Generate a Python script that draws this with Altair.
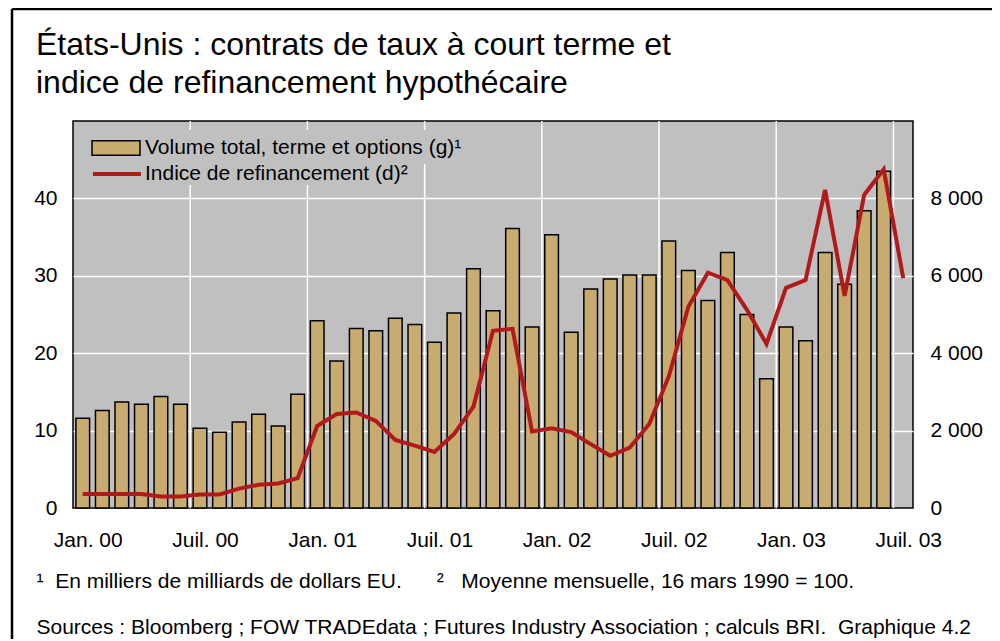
import altair as alt
import pandas as pd

FONT = "Liberation Sans"

# Monthly values, Jan 2000 - Jun 2003 (bars, left axis, thousands of billions USD)
volume = [11.6, 12.6, 13.7, 13.4, 14.4, 13.4, 10.3, 9.8, 11.1, 12.1, 10.6, 14.7,
          24.2, 19.0, 23.2, 22.9, 24.5, 23.7, 21.4, 25.2, 30.9, 25.5, 36.1, 23.4,
          35.3, 22.7, 28.3, 29.6, 30.1, 30.1, 34.5, 30.7, 26.8, 33.0, 25.0, 16.7,
          23.4, 21.6, 33.0, 28.9, 38.4, 43.5]
# Refinancing index, Jan 2000 - Jul 2003 (line, right axis)
refi = [360, 360, 360, 360, 300, 300, 350, 350, 500, 600, 635, 770,
        2120, 2430, 2470, 2250, 1760, 1610, 1450, 1910, 2620, 4580, 4630, 1980,
        2060, 1960, 1650, 1350, 1560, 2170, 3400, 5200, 6080, 5890, 5120, 4240,
        5690, 5890, 8220, 5480, 8090, 8750, 5940]
tick_labels = ["Jan. 00", "Juil. 00", "Jan. 01", "Juil. 01",
               "Jan. 02", "Juil. 02", "Jan. 03", "Juil. 03"]
half_year_bounds = [6, 12, 18, 24, 30, 36, 42]
serie_bar = "Volume total, terme et options (g)¹"
serie_line = "Indice de refinancement (d)²"
title_line1 = "États-Unis : contrats de taux à court terme et"
title_line2 = "indice de refinancement hypothécaire"
NB = "\u00a0"
notes = ["¹" + NB * 2 + "En milliers de milliards de dollars EU." + NB * 6 + "²" + NB * 3 + "Moyenne mensuelle, 16 mars 1990 = 100.",
         "Sources : Bloomberg ; FOW TRADEdata ; Futures Industry Association ; calculs BRI." + NB * 2 + "Graphique 4.2"]

bars_df = pd.DataFrame({"m": list(range(len(volume))), "v": volume})
bars_df["x0"] = bars_df["m"] + 0.15
bars_df["x1"] = bars_df["m"] + 0.85
bars_df["serie"] = serie_bar
line_df = pd.DataFrame({"m": [i + 0.5 for i in range(len(refi))], "r": refi})
line_df["serie"] = serie_line
grid_df = pd.DataFrame({"g": half_year_bounds})
one_df = pd.DataFrame({"k": [0]})

W, H = 840, 387
xscale = alt.Scale(domain=[0, 43], nice=False, zero=False)
label_js = "[" + ",".join("'%s'" % t for t in tick_labels) + "][floor(datum.value/6)]"
xaxis = alt.Axis(values=[0.5 + 6 * i for i in range(8)], labelExpr=label_js,
                 grid=False, ticks=False, domain=False, labelPadding=21,
                 labelFontSize=21, labelOffset=5, labelColor="black", labelFont=FONT,
                 title=notes, titleFont=FONT, titleFontSize=21, titleFontWeight="normal",
                 titleColor="black", titleAlign="left", titleBaseline="alphabetic",
                 titleX=-37, titleY=79, titleLineHeight=46, titleAnchor="start")

vrules = alt.Chart(grid_df).mark_rule(color="white", strokeWidth=1.5).encode(
    x=alt.X("g:Q", scale=xscale, axis=xaxis)
)

bars = alt.Chart(bars_df).mark_bar(stroke="black", strokeWidth=1.5).encode(
    x=alt.X("x0:Q", scale=xscale, axis=xaxis),
    x2="x1:Q",
    y=alt.Y("v:Q", scale=alt.Scale(domain=[0, 50], nice=False),
            axis=alt.Axis(orient="left", values=[0, 10, 20, 30, 40], grid=True,
                          gridColor={"condition": {"test": "datum.value === 0", "value": "transparent"}, "value": "white"},
                          gridWidth=1.5, ticks=False, domain=False, labelPadding=16,
                          labelFontSize=21, labelColor="black", labelFont=FONT, title=None)),
    y2=alt.datum(0),
    fill=alt.Fill("serie:N", scale=alt.Scale(domain=[serie_bar], range=["#c8ab6e"]),
                  legend=alt.Legend(title=None, orient="none", legendX=25, legendY=9,
                                    symbolType="M-2,-0.6H2V0.6H-2Z", symbolSize=576,
                                    symbolStrokeColor="black", symbolStrokeWidth=1.5,
                                    labelFontSize=21, labelFont=FONT, labelColor="black",
                                    labelOffset=16, padding=5, fillColor="#c0c0c0",
                                    labelLimit=600)),
)

line = alt.Chart(line_df).mark_line(strokeWidth=4).encode(
    x=alt.X("m:Q", scale=xscale, axis=xaxis),
    y=alt.Y("r:Q", scale=alt.Scale(domain=[0, 10000], nice=False),
            axis=alt.Axis(orient="right", values=[0, 2000, 4000, 6000, 8000], grid=False,
                          ticks=False, domain=False, labelPadding=17, labelFontSize=21,
                          labelColor="black", labelFont=FONT, title=None,
                          labelExpr="replace(format(datum.value, ','), ',', ' ')")),
    stroke=alt.Stroke("serie:N", scale=alt.Scale(domain=[serie_line], range=["#b2191b"]),
                      legend=alt.Legend(title=None, orient="none", legendX=29, legendY=38,
                                        symbolType="M-2,0H2", symbolSize=576,
                                        symbolStrokeWidth=4,
                                        labelFontSize=21, labelFont=FONT, labelColor="black",
                                        labelOffset=14, padding=1, fillColor="#c0c0c0",
                                        labelExpr="datum.label + '" + NB * 8 + "'",
                                        labelLimit=600)),
)

title1 = alt.Chart(one_df).mark_text(align="left", baseline="alphabetic", font=FONT,
                                     fontSize=32, color="black").encode(
    x=alt.value(-37), y=alt.value(-66), text=alt.value(title_line1))
title2 = alt.Chart(one_df).mark_text(align="left", baseline="alphabetic", font=FONT,
                                     fontSize=32, color="black").encode(
    x=alt.value(-37), y=alt.value(-28), text=alt.value(title_line2))

frame_top = alt.Chart(one_df).mark_rule(color="black", strokeWidth=2.5).encode(
    x=alt.value(-61), x2=alt.value(940), y=alt.value(-112))
frame_left = alt.Chart(one_df).mark_rule(color="black", strokeWidth=2.5).encode(
    x=alt.value(-61), y=alt.value(-112), y2=alt.value(530))

chart = alt.layer(vrules, bars, line, title1, title2, frame_top, frame_left).resolve_scale(
    y="independent", fill="independent", stroke="independent"
).properties(
    width=W, height=H,
    autosize=alt.AutoSizeParams(type="none"),
    padding={"left": 65, "top": 113, "right": 79, "bottom": 131},
).configure(background="white").configure_view(
    fill="#c0c0c0", stroke="black", strokeWidth=1.5
)

chart.save("out.html", embed_options={"renderer": "svg", "actions": False})
